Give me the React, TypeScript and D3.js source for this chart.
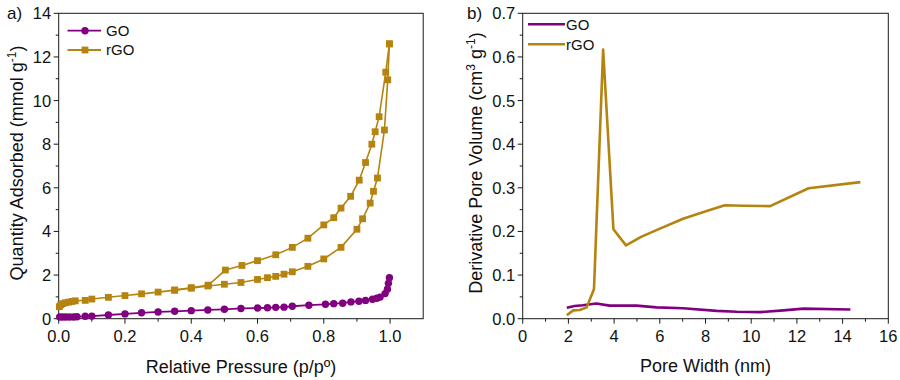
import React, { useRef, useEffect } from 'react';
import * as d3 from 'd3';

// ---- data ----
// a) N2 isotherms: [relative pressure, quantity adsorbed]
const goIsotherm: [number, number][] = [
  [0.003, 0.08], [0.012, 0.08], [0.022, 0.08], [0.033, 0.08], [0.045, 0.08], [0.055, 0.09],
  [0.08, 0.11], [0.1, 0.12], [0.15, 0.17], [0.2, 0.22], [0.25, 0.27], [0.3, 0.31],
  [0.35, 0.34], [0.4, 0.37], [0.45, 0.4], [0.5, 0.43], [0.55, 0.47], [0.6, 0.49],
  [0.63, 0.5], [0.655, 0.52], [0.68, 0.53], [0.705, 0.57], [0.755, 0.62], [0.805, 0.66],
  [0.83, 0.69], [0.857, 0.71], [0.882, 0.77], [0.906, 0.8], [0.926, 0.84], [0.947, 0.89],
  [0.96, 0.94], [0.97, 0.99], [0.985, 1.15], [0.992, 1.35], [0.995, 1.62], [0.998, 1.88]
];

const rgoAdsorption: [number, number][] = [
  [0.002, 0.55], [0.006, 0.64], [0.012, 0.69], [0.02, 0.73], [0.03, 0.76], [0.04, 0.79],
  [0.05, 0.82], [0.08, 0.84], [0.1, 0.9], [0.15, 0.98], [0.2, 1.06], [0.25, 1.14],
  [0.3, 1.22], [0.35, 1.31], [0.4, 1.4], [0.45, 1.5], [0.5, 1.58], [0.55, 1.66],
  [0.6, 1.8], [0.63, 1.88], [0.655, 1.94], [0.68, 2.04], [0.705, 2.15], [0.752, 2.4],
  [0.8, 2.74], [0.852, 3.27], [0.9, 4.1], [0.917, 4.58], [0.94, 5.3], [0.95, 5.84],
  [0.962, 6.45], [0.983, 8.65], [0.993, 10.95], [0.998, 12.6]
];

const rgoDesorption: [number, number][] = [
  [0.998, 12.6], [0.987, 11.3], [0.967, 9.26], [0.955, 8.57], [0.945, 8.0], [0.926, 7.16],
  [0.907, 6.35], [0.881, 5.61], [0.852, 5.07], [0.83, 4.63], [0.8, 4.3], [0.752, 3.69],
  [0.705, 3.27], [0.655, 2.93], [0.6, 2.66], [0.553, 2.44], [0.503, 2.23], [0.452, 1.54],
  [0.4, 1.42], [0.35, 1.31]
];

// b) pore size distribution: [pore width nm, dV/dw]
const goPsd: [number, number][] = [
  [1.93, 0.025], [2.27, 0.029], [2.63, 0.031], [3.22, 0.035], [3.8, 0.03], [4.98, 0.03],
  [5.86, 0.026], [7.02, 0.024], [8.49, 0.018], [9.37, 0.016], [10.39, 0.015], [11.41, 0.019],
  [12.29, 0.023], [14.34, 0.021]
];

const rgoPsd: [number, number][] = [
  [1.93, 0.008], [2.21, 0.019], [2.5, 0.02], [2.8, 0.026], [3.12, 0.068], [3.52, 0.617],
  [3.97, 0.205], [4.52, 0.168], [5.2, 0.188], [6.03, 0.207], [7.02, 0.229], [8.05, 0.247],
  [8.85, 0.26], [9.66, 0.259], [10.83, 0.258], [12.51, 0.299], [14.78, 0.313]
];

const isoXTicks = [0, 0.2, 0.4, 0.6, 0.8, 1.0];
const isoYTicks = [0, 2, 4, 6, 8, 10, 12, 14];
const psdXTicks = [0, 2, 4, 6, 8, 10, 12, 14, 16];
const psdYTicks = [0, 0.1, 0.2, 0.3, 0.4, 0.5, 0.6, 0.7];

const GO_COLOR = '#800080';
const RGO_COLOR = '#b5830f';
const FONT = '"Liberation Sans", Arial, sans-serif';

const App = () => {
  const svgRef = useRef<SVGSVGElement>(null);

  useEffect(() => {
    const svg = d3.select(svgRef.current);
    svg.selectAll('*').remove();

    const top = 13.3;
    const bottom = 318.7;

    // draw frame, ticks and tick labels for one panel
    const drawFrame = (x, y, xTicks, xMinor, yTicks, yMinor, xFmt, yFmt) => {
      const g = svg.append('g');
      const [x0, x1] = x.range();
      g.append('rect')
        .attr('x', x0).attr('y', top)
        .attr('width', x1 - x0).attr('height', bottom - top)
        .attr('fill', 'none').attr('stroke', '#1a1a1a').attr('stroke-width', 1);

      xMinor.forEach(v => {
        g.append('line').attr('x1', x(v)).attr('x2', x(v))
          .attr('y1', bottom).attr('y2', bottom + 3).attr('stroke', '#1a1a1a');
      });
      xTicks.forEach(v => {
        g.append('line').attr('x1', x(v)).attr('x2', x(v))
          .attr('y1', bottom).attr('y2', bottom + 5).attr('stroke', '#1a1a1a');
        g.append('text')
          .attr('x', x(v)).attr('y', bottom + 23)
          .attr('text-anchor', 'middle')
          .style('font-family', FONT).style('font-size', '16.5px').style('fill', '#111')
          .text(xFmt(v));
      });
      yMinor.forEach(v => {
        g.append('line').attr('x1', x0 - 3).attr('x2', x0)
          .attr('y1', y(v)).attr('y2', y(v)).attr('stroke', '#1a1a1a');
      });
      yTicks.forEach(v => {
        g.append('line').attr('x1', x0 - 5).attr('x2', x0)
          .attr('y1', y(v)).attr('y2', y(v)).attr('stroke', '#1a1a1a');
        g.append('text')
          .attr('x', x0 - 7.5).attr('y', y(v) + 6)
          .attr('text-anchor', 'end')
          .style('font-family', FONT).style('font-size', '16.5px').style('fill', '#111')
          .text(yFmt(v));
      });
    };

    // ---------- panel a ----------
    const xA = d3.scaleLinear().domain([0, 1.1]).range([58.7, 423.2]);
    const yA = d3.scaleLinear().domain([0, 14]).range([bottom, top]);

    drawFrame(xA, yA, isoXTicks, d3.range(0.1, 1.1, 0.2), isoYTicks, d3.range(1, 14, 2),
      d => d.toFixed(1), d => String(d));

    const lineA = d3.line<[number, number]>().x(d => xA(d[0])).y(d => yA(d[1]));

    const plotA = svg.append('g');
    plotA.append('path').attr('d', lineA(goIsotherm))
      .attr('fill', 'none').attr('stroke', GO_COLOR).attr('stroke-width', 1.8);
    plotA.selectAll('.go-pt').data(goIsotherm).enter().append('circle')
      .attr('cx', d => xA(d[0])).attr('cy', d => yA(d[1])).attr('r', 3.7)
      .attr('fill', GO_COLOR);

    [rgoAdsorption, rgoDesorption].forEach(branch => {
      plotA.append('path').attr('d', lineA(branch))
        .attr('fill', 'none').attr('stroke', RGO_COLOR).attr('stroke-width', 1.6);
      plotA.selectAll(null).data(branch).enter().append('rect')
        .attr('x', d => xA(d[0]) - 3.4).attr('y', d => yA(d[1]) - 3.4)
        .attr('width', 6.8).attr('height', 6.8)
        .attr('fill', RGO_COLOR);
    });

    // legend a
    const legA = svg.append('g');
    [{ label: 'GO', color: GO_COLOR, y: 30.7, shape: 'circle' },
     { label: 'rGO', color: RGO_COLOR, y: 50, shape: 'square' }].forEach(item => {
      legA.append('line').attr('x1', 67.5).attr('x2', 101).attr('y1', item.y).attr('y2', item.y)
        .attr('stroke', item.color).attr('stroke-width', 1.8);
      if (item.shape === 'circle') {
        legA.append('circle').attr('cx', 85).attr('cy', item.y).attr('r', 3.7).attr('fill', item.color);
      } else {
        legA.append('rect').attr('x', 81.6).attr('y', item.y - 3.4)
          .attr('width', 6.8).attr('height', 6.8).attr('fill', item.color);
      }
      legA.append('text').attr('x', 106).attr('y', item.y + 5.3)
        .style('font-family', FONT).style('font-size', '15px').style('fill', '#111')
        .text(item.label);
    });

    // ---------- panel b ----------
    const xB = d3.scaleLinear().domain([0, 16]).range([522.7, 888.3]);
    const yB = d3.scaleLinear().domain([0, 0.7]).range([bottom, top]);

    drawFrame(xB, yB, psdXTicks, d3.range(1, 16, 2), psdYTicks, d3.range(0.05, 0.7, 0.1),
      d => String(d), d => d.toFixed(1));

    const lineB = d3.line<[number, number]>().x(d => xB(d[0])).y(d => yB(d[1]));
    const plotB = svg.append('g');
    plotB.append('path').attr('d', lineB(goPsd))
      .attr('fill', 'none').attr('stroke', GO_COLOR).attr('stroke-width', 2.6)
      .attr('stroke-linejoin', 'round');
    plotB.append('path').attr('d', lineB(rgoPsd))
      .attr('fill', 'none').attr('stroke', RGO_COLOR).attr('stroke-width', 2.6)
      .attr('stroke-linejoin', 'round');

    const legB = svg.append('g');
    [{ label: 'GO', color: GO_COLOR, y: 24.3 }, { label: 'rGO', color: RGO_COLOR, y: 44.3 }]
      .forEach(item => {
        legB.append('line').attr('x1', 528).attr('x2', 565).attr('y1', item.y).attr('y2', item.y)
          .attr('stroke', item.color).attr('stroke-width', 2.6);
        legB.append('text').attr('x', 566).attr('y', item.y + 5.3)
          .style('font-family', FONT).style('font-size', '15px').style('fill', '#111')
          .text(item.label);
      });

    // ---------- axis titles & panel labels ----------
    const title = (x, y, rotate) => {
      const t = svg.append('text')
        .attr('text-anchor', 'middle')
        .style('font-family', FONT).style('font-size', '18px').style('fill', '#111');
      if (rotate) t.attr('transform', `translate(${x},${y}) rotate(-90)`);
      else t.attr('x', x).attr('y', y);
      return t;
    };

    title(241, 372.5, false).text('Relative Pressure (p/p\u00BA)');
    title(705.5, 372, false).text('Pore Width (nm)');

    const ya = title(22.5, 163, true);
    ya.append('tspan').text('Quantity Adsorbed (mmol g');
    ya.append('tspan').attr('dy', -7).style('font-size', '12px').text('-1');
    ya.append('tspan').attr('dy', 7).text(')');

    const yb = title(482, 163, true);
    yb.append('tspan').text('Derivative Pore Volume (cm');
    yb.append('tspan').attr('dy', -7).style('font-size', '12px').text('3');
    yb.append('tspan').attr('dy', 7).text(' g');
    yb.append('tspan').attr('dy', -7).style('font-size', '12px').text('-1');
    yb.append('tspan').attr('dy', 7).text(')');

    svg.append('text').attr('x', 7).attr('y', 19)
      .style('font-family', FONT).style('font-size', '17px').style('fill', '#111').text('a)');
    svg.append('text').attr('x', 467).attr('y', 19)
      .style('font-family', FONT).style('font-size', '17px').style('fill', '#111').text('b)');
  }, []);

  return (
    <svg
      ref={svgRef}
      width={900}
      height={380}
      viewBox="0 0 900 380"
      style={{ position: 'absolute', left: 0, top: 0, background: '#fff', display: 'block' }}
    />
  );
};

export default App;
